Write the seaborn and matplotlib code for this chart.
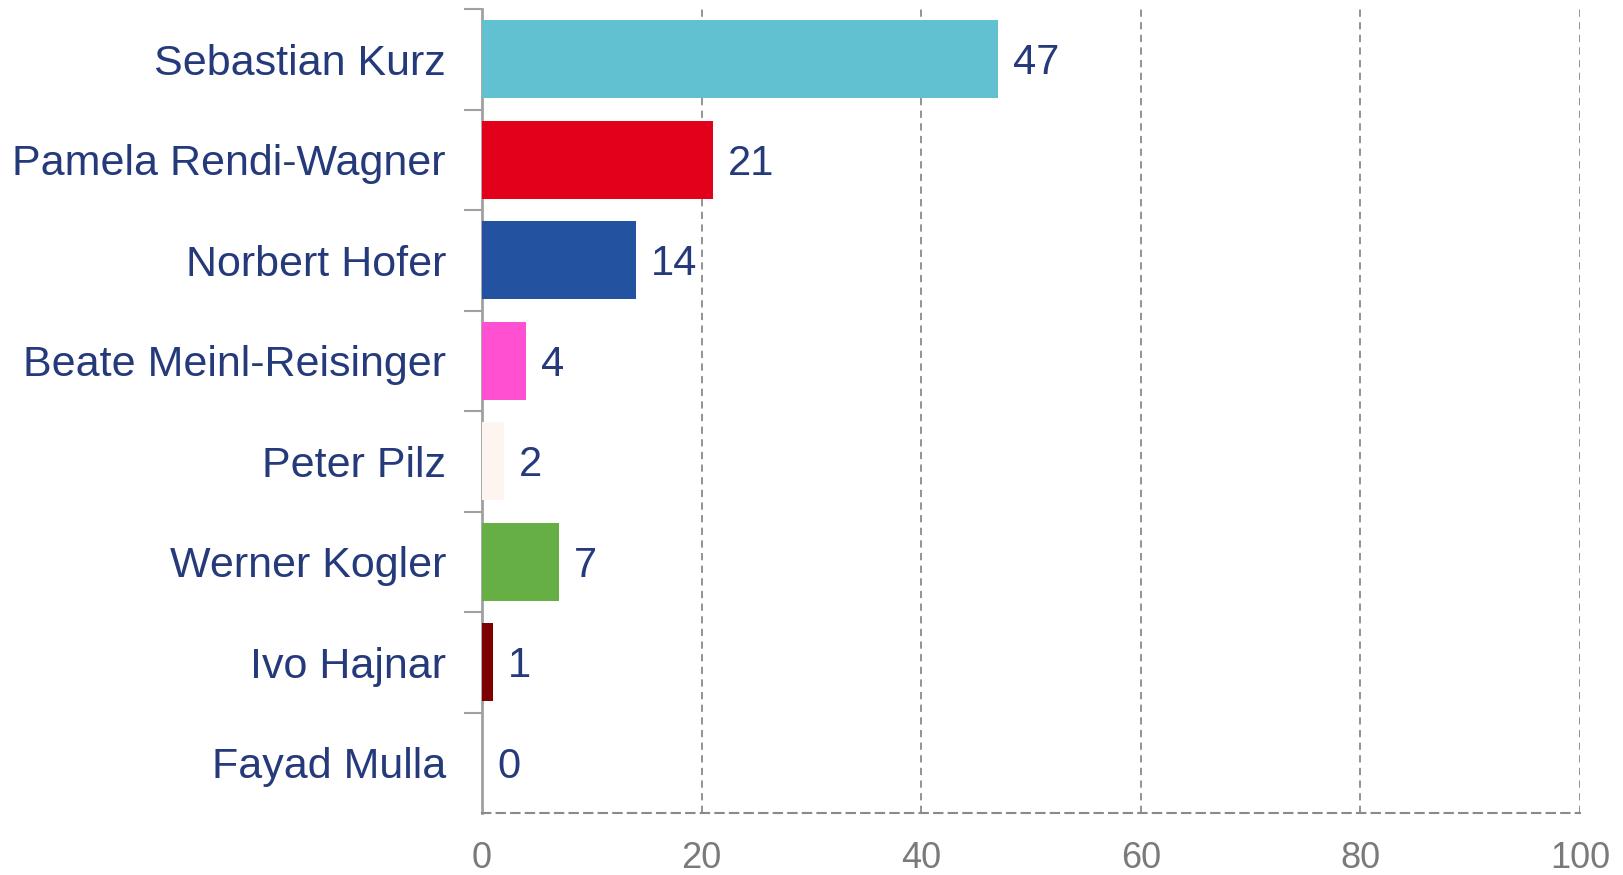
import pandas as pd
import seaborn as sns
import matplotlib.pyplot as plt
import numpy as np

# data
names = ['Sebastian Kurz', 'Pamela Rendi-Wagner', 'Norbert Hofer', 'Beate Meinl-Reisinger',
         'Peter Pilz', 'Werner Kogler', 'Ivo Hajnar', 'Fayad Mulla']
values = [47, 21, 14, 4, 2, 7, 1, 0]
colors = ['#62C1D1', '#E2001A', '#2353A0', '#FF50D2', '#FFF5F0', '#66AF44', '#7F0000', '#FFFFFF']
x_ticks = [0, 20, 40, 60, 80, 100]

df = pd.DataFrame({'name': names, 'value': values})

sns.set_style('white')
plt.rcParams['font.family'] = ['Liberation Sans', 'DejaVu Sans']

fig = plt.figure(figsize=(16.23, 8.75), dpi=100)
ax = fig.add_axes([482 / 1623, 1 - 813 / 875, (1580 - 482) / 1623, (813 - 9) / 875])

sns.barplot(data=df, x='value', y='name', hue='name', palette=colors, legend=False,
            orient='h', width=0.775, saturation=1, linewidth=0, ax=ax, zorder=3)

label_col = '#253A7A'
grid_col = '#8A8A8A'

ax.set_xlim(0, 100)
ax.set_ylim(len(names) - 0.5, -0.5)
ax.set_xticks(x_ticks)
ax.set_xticklabels([str(t) for t in x_ticks])
ax.tick_params(axis='x', length=12, width=1.5, color=grid_col, pad=8,
               labelsize=26, labelcolor='#7A7A7A')
for t in ax.xaxis.get_ticklines():
    t.set_linestyle((0, (3, 2)))

# tick marks on the category boundaries, names in the middle
pos = np.arange(len(names))
ax.set_yticks(pos - 0.5, labels=[''] * len(names))
ax.set_yticks(pos, labels=names, minor=True)
ax.tick_params(axis='y', which='minor', length=0, pad=26, labelsize=31, labelcolor=label_col)
ax.tick_params(axis='y', which='major', length=13, width=1.5, color='#A0A0A0', left=True)
ax.set_xlabel('')
ax.set_ylabel('')

ax.grid(axis='x', linestyle=(0, (4, 3)), color=grid_col, linewidth=1.3, zorder=0)
ax.grid(axis='y', visible=False)

for s in ['top', 'right']:
    ax.spines[s].set_visible(False)
ax.spines['left'].set_color('#A0A0A0')
ax.spines['left'].set_linewidth(2)
ax.spines['bottom'].set_color(grid_col)
ax.spines['bottom'].set_linewidth(1.5)
ax.spines['bottom'].set_linestyle((0, (4, 3)))

for i, v in enumerate(values):
    ax.annotate(str(v), (v, i), xytext=(11, -3), textcoords='offset points',
                va='center', ha='left', fontsize=30, color=label_col)

plt.savefig('out.png', dpi=100)
